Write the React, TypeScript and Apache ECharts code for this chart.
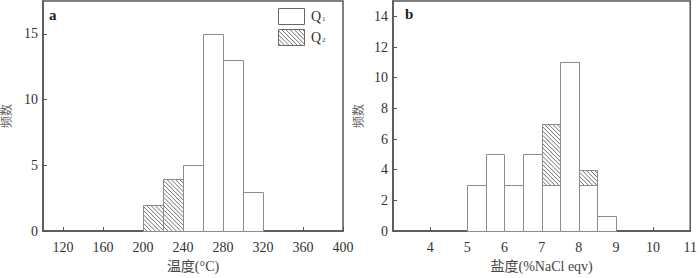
import React, { useEffect, useRef } from "react";
import * as echarts from "echarts";

// Panel a: homogenization temperature histogram
const binStartA = [200, 220, 240, 260, 280, 300];
const binWidthA = 20;
const q1A = [0, 0, 5, 15, 13, 3];
const q2A = [2, 4, 0, 0, 0, 0];
const xTicksA = [120, 160, 200, 240, 280, 320, 360, 400];
const yTicksA = [0, 5, 10, 15];

// Panel b: salinity histogram
const binStartB = [5, 5.5, 6, 6.5, 7, 7.5, 8, 8.5];
const binWidthB = 0.5;
const q1B = [3, 5, 3, 5, 3, 11, 3, 1];
const q2B = [0, 0, 0, 0, 4, 0, 1, 0];
const xTicksB = [4, 5, 6, 7, 8, 9, 10, 11];
const yTicksB = [0, 2, 4, 6, 8, 10, 12, 14];

const seriesNames = ["Q1", "Q2"];

const FONT = "'Liberation Serif', 'Times New Roman', 'Noto Sans CJK SC', serif";
const AXIS_COLOR = "#555";
const BAR_STROKE = "#8c8c8c";
const HATCH = "#707070";
const HATCH_STEP = 4.2;

function buildItems(starts: number[], w: number, a: number[], b: number[]) {
  const items: number[][] = [];
  starts.forEach((x0, i) => {
    if (a[i] > 0) items.push([x0, x0 + w, 0, a[i], 0]);
    if (b[i] > 0) items.push([x0, x0 + w, a[i], a[i] + b[i], 1]);
  });
  return items;
}

function hatchLines(L: number, T: number, R: number, B: number) {
  const out: any[] = [];
  const cMin = Math.ceil((T - R) / HATCH_STEP) * HATCH_STEP;
  for (let c = cMin; c <= B - L; c += HATCH_STEP) {
    const y1 = Math.max(T, L + c);
    const y2 = Math.min(B, R + c);
    if (y2 - y1 > 0.3) {
      out.push({
        type: "line",
        shape: { x1: y1 - c, y1, x2: y2 - c, y2 },
        style: { stroke: HATCH, lineWidth: 1 },
      });
    }
  }
  return out;
}

function renderBin(params: any, api: any) {
  const x0 = api.value(0);
  const x1 = api.value(1);
  const y0 = api.value(2);
  const y1 = api.value(3);
  const hatched = api.value(4);
  const p0 = api.coord([x0, y1]);
  const p1 = api.coord([x1, y0]);
  const L = Math.round(p0[0]) + 0.5;
  const T = Math.round(p0[1]) + 0.5;
  const R = Math.round(p1[0]) + 0.5;
  const B = Math.round(p1[1]) + 0.5;
  const children: any[] = [
    {
      type: "rect",
      shape: { x: L, y: T, width: R - L, height: B - T },
      style: { fill: "#fff", stroke: BAR_STROKE, lineWidth: 1 },
    },
  ];
  if (hatched) {
    children.push(...hatchLines(L, T, R, B));
    children.push({
      type: "rect",
      shape: { x: L, y: T, width: R - L, height: B - T },
      style: { fill: "none", stroke: BAR_STROKE, lineWidth: 1 },
    });
  }
  return { type: "group", children };
}

function xAxisCfg(gridIndex: number, min: number, max: number, ticks: number[], name: string) {
  return {
    type: "value",
    gridIndex,
    min,
    max,
    name,
    nameLocation: "middle",
    nameGap: 25,
    nameTextStyle: { fontFamily: FONT, fontSize: 14, color: "#444" },
    axisLine: { show: true, onZero: false, lineStyle: { color: AXIS_COLOR, width: 1.5 } },
    axisTick: { show: true, inside: true, length: 4, customValues: ticks, lineStyle: { color: AXIS_COLOR } },
    axisLabel: { customValues: ticks, margin: 9, fontFamily: FONT, fontSize: 14, color: "#333" },
    splitLine: { show: false },
  };
}

function yAxisCfg(gridIndex: number, max: number, ticks: number[], nameGap: number) {
  return {
    type: "value",
    gridIndex,
    min: 0,
    max,
    name: "频数",
    nameLocation: "middle",
    nameRotate: 90,
    nameGap,
    nameTextStyle: { fontFamily: FONT, fontSize: 12, color: "#666" },
    axisLine: { show: true, lineStyle: { color: AXIS_COLOR, width: 1.5 } },
    axisTick: { show: true, inside: true, length: 4, customValues: ticks, lineStyle: { color: AXIS_COLOR } },
    axisLabel: { customValues: ticks, margin: 5, fontFamily: FONT, fontSize: 14, color: "#333" },
    splitLine: { show: false },
  };
}

export default function App() {
  const ref = useRef<HTMLDivElement>(null);
  useEffect(() => {
    if (!ref.current) return;
    const chart = echarts.init(ref.current, null, { renderer: "svg" });
    const itemsA = buildItems(binStartA, binWidthA, q1A, q2A);
    const itemsB = buildItems(binStartB, binWidthB, q1B, q2B);

    // legend (decoration)
    const lx = 278.5, lw = 26, lh = 16, ly1 = 8.5, ly2 = 29.5;
    const legendHatch = hatchLines(lx, ly2, lx + lw, ly2 + lh);

    const option: any = {
      animation: false,
      backgroundColor: "#fff",
      grid: [
        { left: 43, top: 1, width: 300, height: 241, show: true, borderColor: AXIS_COLOR, borderWidth: 1.5, backgroundColor: "transparent" },
        { left: 393, top: 1, width: 300, height: 241, show: true, borderColor: AXIS_COLOR, borderWidth: 1.5, backgroundColor: "transparent" },
      ],
      xAxis: [
        xAxisCfg(0, 100, 400, xTicksA, "温度(°C)"),
        xAxisCfg(1, 3, 11, xTicksB, "盐度(%NaCl eqv)"),
      ],
      yAxis: [yAxisCfg(0, 17.5, yTicksA, 30), yAxisCfg(1, 15, yTicksB, 28)],
      series: [
        {
          type: "custom",
          name: seriesNames[0],
          xAxisIndex: 0,
          yAxisIndex: 0,
          renderItem: renderBin,
          encode: { x: [0, 1], y: [2, 3] },
          data: itemsA,
          z: 1,
        },
        {
          type: "custom",
          name: seriesNames[1],
          xAxisIndex: 1,
          yAxisIndex: 1,
          renderItem: renderBin,
          encode: { x: [0, 1], y: [2, 3] },
          data: itemsB,
          z: 1,
        },
      ],
      graphic: [
        {
          type: "text",
          left: 49,
          top: 7,
          style: { text: "a", font: `bold 15px ${FONT}`, fill: "#222" },
        },
        {
          type: "text",
          left: 405,
          top: 6,
          style: { text: "b", font: `bold 15px ${FONT}`, fill: "#222" },
        },
        {
          type: "rect",
          shape: { x: lx, y: ly1, width: lw, height: lh },
          style: { fill: "#fff", stroke: "#666", lineWidth: 1 },
          z: 10,
        },
        {
          type: "rect",
          shape: { x: lx, y: ly2, width: lw, height: lh },
          style: { fill: "#fff", stroke: "#666", lineWidth: 1 },
          z: 10,
        },
        ...legendHatch.map((l: any) => ({ ...l, z: 11 })),
        {
          type: "text",
          x: 311,
          y: 9,
          z: 10,
          style: {
            text: "{q|Q}{s|1}",
            rich: {
              q: { fontFamily: FONT, fontSize: 14, fill: "#333" },
              s: { fontFamily: FONT, fontSize: 7, fill: "#333", padding: [7, 0, 0, 1] },
            },
          },
        },
        {
          type: "text",
          x: 311,
          y: 30,
          z: 10,
          style: {
            text: "{q|Q}{s|2}",
            rich: {
              q: { fontFamily: FONT, fontSize: 14, fill: "#333" },
              s: { fontFamily: FONT, fontSize: 7, fill: "#333", padding: [7, 0, 0, 1] },
            },
          },
        },
      ],
    };
    chart.setOption(option);
    return () => chart.dispose();
  }, []);
  return (
    <div
      ref={ref}
      style={{ position: "fixed", left: 0, top: 0, width: 700, height: 278, background: "#fff" }}
    />
  );
}
